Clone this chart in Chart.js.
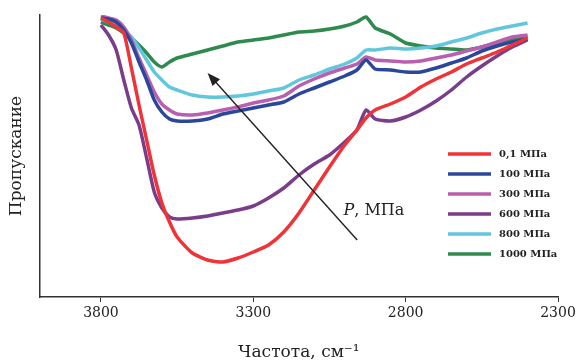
<!DOCTYPE html>
<html>
<head>
<meta charset="utf-8">
<script src="https://cdn.jsdelivr.net/npm/chart.js@4"></script>
<style>
  html, body { margin: 0; padding: 0; background: #fff; }
  #wrap { width: 579px; height: 363px; }
</style>
</head>
<body>
<div id="wrap"><canvas id="myChart" width="579" height="363"></canvas></div>
<script>
// wavenumbers, cm-1
var wavenumbers = [3800, 3775, 3750, 3725, 3700, 3675, 3650, 3625, 3600, 3575, 3550, 3500, 3450, 3400, 3350, 3300,
    3250, 3200, 3150, 3100, 3050, 3000, 2960, 2930, 2900, 2850, 2800, 2750, 2700, 2650, 2600, 2550, 2500, 2450, 2400];

var labels = ['0,1 МПа', '100 МПа', '300 МПа', '600 МПа', '800 МПа', '1000 МПа'];

// transmission, arbitrary units
var p01 = [279, 275, 270, 264, 229, 192, 157, 122, 94, 75, 60, 44, 37, 35, 39, 45,
    52, 65, 84, 107, 130, 152, 167, 179, 187, 193, 200, 210, 218, 225, 233, 239, 245, 252, 259];
var p100 = [279, 278, 275, 267, 254, 235, 217, 197, 185, 178, 176, 176, 178, 183, 186, 189,
    192, 195, 203, 209, 215, 221, 227, 237, 228, 227, 225, 225, 229, 234, 239, 246, 251, 255, 258];
var p300 = [281, 279, 277, 270, 257, 239, 222, 205, 193, 187, 183, 182, 184, 187, 190, 194,
    197, 201, 211, 218, 224, 229, 233, 240, 237, 236, 235, 236, 239, 242, 246, 250, 255, 260, 262];
var p600 = [272, 262, 247, 217, 189, 172, 139, 105, 89, 80, 78, 79, 81, 84, 87, 91,
    99, 109, 122, 133, 142, 155, 167, 187, 178, 176, 180, 187, 196, 207, 220, 231, 241, 250, 257];
var p800 = [278, 275, 273, 267, 260, 249, 237, 225, 217, 210, 207, 202, 200, 200, 201, 203,
    206, 209, 217, 222, 228, 233, 239, 247, 247, 249, 248, 249, 251, 255, 259, 264, 268, 271, 274];
var p1000 = [275, 272, 269, 264, 259, 252, 244, 235, 230, 235, 239, 243, 247, 251, 255, 257,
    259, 262, 265, 266, 268, 271, 275, 280, 269, 263, 254, 251, 249, 248, 247, 250, 254, 257, 261];

var xTicks = [3800, 3300, 2800, 2300];

var series = [p01, p100, p300, p600, p800, p1000];
var colors = ['#ef3338', '#2b479b', '#b95fae', '#7a3d8a', '#62c7dc', '#2f8a4f'];

var serif = "'DejaVu Serif', 'Liberation Serif', serif";

// legend drawn inside the plot, on the right
var sideLegend = {
    id: 'sideLegend',
    afterDraw: function(chart) {
        var ctx = chart.ctx;
        ctx.save();
        ctx.font = 'bold 10px ' + serif;
        ctx.textBaseline = 'middle';
        chart.data.datasets.forEach(function(ds, i) {
            var y = 154 + i * 20;
            ctx.strokeStyle = ds.borderColor;
            ctx.lineWidth = 3.5;
            ctx.beginPath();
            ctx.moveTo(448, y);
            ctx.lineTo(491, y);
            ctx.stroke();
            ctx.fillStyle = '#222';
            ctx.fillText(ds.label, 499, y);
        });
        ctx.restore();
    }
};

// pressure arrow
var pressureArrow = {
    id: 'pressureArrow',
    afterDatasetsDraw: function(chart) {
        var ctx = chart.ctx;
        var xs = chart.scales.x, ys = chart.scales.y;
        var x0 = xs.getPixelForValue(2959), y0 = ys.getPixelForValue(57);
        var x1 = xs.getPixelForValue(3450), y1 = ys.getPixelForValue(224);
        var a = Math.atan2(y1 - y0, x1 - x0);
        ctx.save();
        ctx.strokeStyle = '#222';
        ctx.fillStyle = '#222';
        ctx.lineWidth = 1.4;
        ctx.beginPath();
        ctx.moveTo(x0, y0);
        ctx.lineTo(x1 - 8 * Math.cos(a), y1 - 8 * Math.sin(a));
        ctx.stroke();
        ctx.beginPath();
        ctx.moveTo(x1, y1);
        ctx.lineTo(x1 - 13 * Math.cos(a) + 5 * Math.sin(a), y1 - 13 * Math.sin(a) - 5 * Math.cos(a));
        ctx.lineTo(x1 - 13 * Math.cos(a) - 5 * Math.sin(a), y1 - 13 * Math.sin(a) + 5 * Math.cos(a));
        ctx.closePath();
        ctx.fill();

        var tx = xs.getPixelForValue(3004), ty = ys.getPixelForValue(82);
        ctx.textBaseline = 'alphabetic';
        ctx.font = 'italic 16px ' + serif;
        ctx.fillText('P', tx, ty);
        var w = ctx.measureText('P').width;
        ctx.font = '16px ' + serif;
        ctx.fillText(', МПа', tx + w, ty);
        ctx.restore();
    }
};

var ctx = document.getElementById('myChart').getContext('2d');
var chart = new Chart(ctx, {
    type: 'line',
    data: {
        datasets: series.map(function(s, i) {
            return {
                label: labels[i],
                data: s.map(function(v, j) { return { x: wavenumbers[j], y: v }; }),
                borderColor: colors[i],
                backgroundColor: colors[i],
                borderWidth: 3.5,
                pointRadius: 0,
                tension: 0.2,
                fill: false
            };
        })
    },
    options: {
        responsive: false,
        animation: false,
        layout: { padding: { top: 15, right: 21, left: 0, bottom: 0 } },
        plugins: {
            legend: { display: false },
            tooltip: { enabled: false }
        },
        scales: {
            x: {
                type: 'linear',
                reverse: true,
                min: 2300,
                max: 4000,
                afterBuildTicks: function(scale) {
                    scale.ticks = xTicks.map(function(v) { return { value: v }; });
                },
                afterFit: function(scale) { scale.height = 66; },
                grid: { display: true, drawOnChartArea: false, drawTicks: true, tickLength: 5, color: '#333', lineWidth: 1 },
                border: { display: true, color: '#333', width: 1.5 },
                ticks: {
                    color: '#222',
                    font: { family: serif, size: 14 },
                    padding: 3,
                    maxRotation: 0,
                    callback: function(v) { return String(v); }
                },
                title: {
                    display: true,
                    text: 'Частота, см⁻¹',
                    color: '#222',
                    font: { family: serif, size: 17 },
                    padding: { top: 14, bottom: 0 }
                }
            },
            y: {
                min: 0,
                max: 282,
                afterFit: function(scale) { scale.width = 40; },
                grid: { display: false },
                border: { display: true, color: '#333', width: 1.5 },
                ticks: { display: false },
                title: {
                    display: true,
                    text: 'Пропускание',
                    color: '#222',
                    font: { family: serif, size: 17 },
                    padding: { top: 6, bottom: 0 }
                }
            }
        }
    },
    plugins: [sideLegend, pressureArrow]
});
</script>
</body>
</html>
